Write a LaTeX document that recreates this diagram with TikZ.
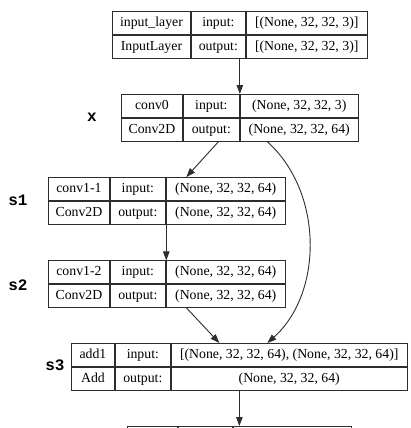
\documentclass[tikz,border=0pt]{standalone}
\usepackage{fontspec}
\setmainfont{Liberation Serif}
\newfontfamily\labelfont{Liberation Mono}
\usetikzlibrary{matrix, positioning, arrows.meta}
\definecolor{edge}{RGB}{45,45,45}

\begin{document}
\begin{tikzpicture}[x=1pt, y=-1pt,
  every node/.style={inner sep=0pt, outer sep=0pt},
  layer/.style={matrix of nodes, ampersand replacement=\&, anchor=north west,
                nodes={draw=edge, line width=0.9pt, minimum height=23,
                       text height=10pt, text depth=3.5pt,
                       font=\fontsize{13.8}{16}\selectfont}},
  cols/.style n args={3}{column 1/.style={nodes={minimum width=#1}},
                         column 2/.style={nodes={minimum width=#2}},
                         column 3/.style={nodes={minimum width=#3}}},
  lbl/.style={font=\labelfont\bfseries\fontsize{16}{18}\selectfont},
  arrow/.style={-{Triangle[length=9pt, width=6.5pt]}, edge, line width=0.9pt}]
\useasboundingbox (0,0) rectangle (411,428);
\clip (0,0) rectangle (411,428);
\matrix[layer, cols={78}{54}{121}] (inp) at (112,11) {
  input\_layer \& input: \& {[(None, 32, 32, 3)]} \\
  InputLayer \& output: \& {[(None, 32, 32, 3)]} \\
};
\matrix[layer, cols={61}{56}{118}] (conv0) at (121,94) {
  conv0 \& input: \& (None, 32, 32, 3) \\
  Conv2D \& output: \& (None, 32, 32, 64) \\
};
\matrix[layer, cols={61}{55}{119}] (c11) at (48,177) {
  conv1-1 \& input: \& (None, 32, 32, 64) \\
  Conv2D \& output: \& (None, 32, 32, 64) \\
};
\matrix[layer, cols={61}{55}{119}] (c12) at (48,260) {
  conv1-2 \& input: \& (None, 32, 32, 64) \\
  Conv2D \& output: \& (None, 32, 32, 64) \\
};
\matrix[layer, cols={43}{55}{236}] (add1) at (71,343) {
  add1 \& input: \& {[(None, 32, 32, 64), (None, 32, 32, 64)]} \\
  Add \& output: \& (None, 32, 32, 64) \\
};
\matrix[layer, cols={50}{54}{118}, nodes in empty cells] (nxt) at (127,426) {
  \& \& \\
};
% block labels
\node[lbl] (lx) at (92,117) {x};
\node[lbl] (ls1) at (18,200) {s1};
\node[lbl] (ls2) at (18,285) {s2};
\node[lbl] (ls3) at (55,365) {s3};
% connections
\draw[arrow] (inp.south) -- (conv0.north);
\draw[arrow] ([xshift=-21.5pt]conv0.south) -- ([xshift=19.5pt]c11.north);
\draw[arrow] (c11-2-3.south west) -- (c12-1-3.north west);
\draw[arrow] ([xshift=19.5pt]c12.south) -- ([xshift=-20pt]add1.north);
\draw[arrow] ([xshift=27.5pt]conv0.south) .. controls +(56,50) and +(56,-50)
  .. ([xshift=28pt]add1.north);
\draw[arrow] (add1.south) -- (nxt.north);
\end{tikzpicture}
\end{document}
